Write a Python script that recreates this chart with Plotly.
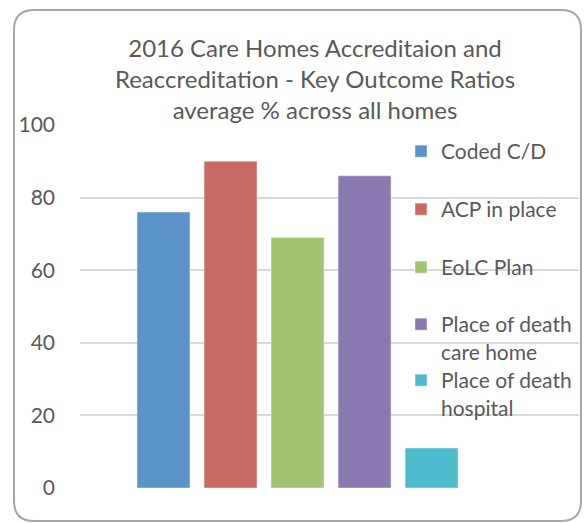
import plotly.graph_objects as go

series_names = ["Coded C/D", "ACP in place", "EoLC Plan",
                "Place of death<br>care home", "Place of death<br>hospital"]
values = [76, 90, 69, 86, 11]
colors = ["#5B93C8", "#C96A63", "#A2C472", "#8A78B0", "#4EBACE"]
y_ticks = [0, 20, 40, 60, 80, 100]
title_lines = ["2016 Care Homes Accreditaion and",
               "Reaccreditation - Key Outcome Ratios",
               "average % across all homes"]

W, H = 588, 523
L, R, T, B = 80, 9, 125, 35
pw, ph = W - L - R, H - T - B

def px(x):
    return (x - L) / pw

def py(y):
    return (H - B - y) / ph

FONT = "Lato"
fig = go.Figure()
legend_tops = [131, 189, 247, 304, 360]
for i, (name, v, c) in enumerate(zip(series_names, values, colors)):
    lg = "legend" if i == 0 else f"legend{i+1}"
    fig.add_trace(go.Bar(x=[i], y=[v], name=name, marker_color=c,
                         width=0.79, legend=lg))

layout = dict(
    width=W, height=H,
    margin=dict(l=L, r=R, t=T, b=B),
    paper_bgcolor="white", plot_bgcolor="white",
    barmode="overlay",
    title=dict(text="<br>".join(title_lines), x=315 / W, xanchor="center",
               y=1 - 57 / H, yanchor="top",
               font=dict(family=FONT, size=24, color="#595959")),
    xaxis=dict(range=[-1.246, 6.2], showticklabels=False, showgrid=False,
               zeroline=False, showline=False, fixedrange=True),
    yaxis=dict(range=[0, 100], tickvals=y_ticks, showgrid=True,
               gridcolor="#D9D9D9", gridwidth=1.5, zeroline=False,
               showline=False, ticklabelstandoff=24,
               tickfont=dict(family=FONT, size=21, color="#595959")),
    showlegend=True,
)
for i, top in enumerate(legend_tops):
    key = "legend" if i == 0 else f"legend{i+1}"
    layout[key] = dict(x=px(401), xanchor="left", y=py(top), yanchor="top",
                       bgcolor="rgba(0,0,0,0)", valign="top",
                       font=dict(family=FONT, size=21, color="#595959"))
fig.update_layout(**layout)

# rounded chart border
x0, x1, y0, y1, r = 14, 581, 10, 521, 20
def P(x, y):
    return f"{px(x):.5f},{py(y):.5f}"
path = (f"M{P(x0 + r, y0)} L{P(x1 - r, y0)} Q{P(x1, y0)} {P(x1, y0 + r)} "
        f"L{P(x1, y1 - r)} Q{P(x1, y1)} {P(x1 - r, y1)} "
        f"L{P(x0 + r, y1)} Q{P(x0, y1)} {P(x0, y1 - r)} "
        f"L{P(x0, y0 + r)} Q{P(x0, y0)} {P(x0 + r, y0)} Z")
fig.add_shape(type="path", xref="paper", yref="paper", path=path,
              line=dict(color="#A6A6A6", width=2), layer="above")

fig.write_html("out.html", config={"displayModeBar": False},
               post_script="document.body.style.margin='0';"
                           "document.body.style.overflow='hidden';")
